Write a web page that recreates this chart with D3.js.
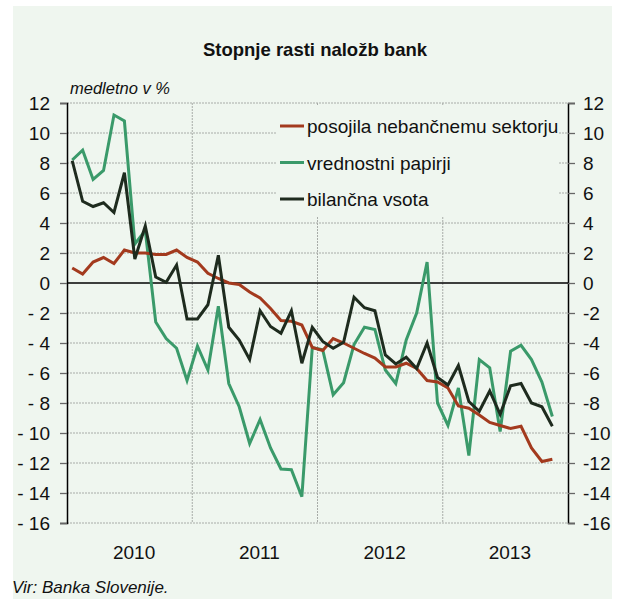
<!DOCTYPE html>
<html>
<head>
<meta charset="utf-8">
<script src="https://cdn.jsdelivr.net/npm/d3@7"></script>
<style>
  body { margin: 0; background: #fff; }
  svg text { font-family: "Liberation Sans Narrow", "Arial Narrow", "Liberation Sans", sans-serif; }
</style>
</head>
<body>
<svg id="chart" width="622" height="599"></svg>
<script>
// monthly data, Jan 2010 .. Nov 2013
const years = ["2010", "2011", "2012", "2013"];
const yTicks = [12, 10, 8, 6, 4, 2, 0, -2, -4, -6, -8, -10, -12, -14, -16];

const posojila = [1.0, 0.6, 1.4, 1.7, 1.3, 2.2, 2.0, 2.0, 1.9, 1.9, 2.2, 1.7,
  1.4, 0.65, 0.3, 0.0, -0.1, -0.6, -1.0, -1.7, -2.5, -2.55, -2.8, -4.3,
  -4.5, -3.7, -4.0, -4.35, -4.7, -5.0, -5.6, -5.6, -5.35, -5.7, -6.5, -6.6,
  -7.0, -8.2, -8.35, -8.8, -9.3, -9.5, -9.7, -9.55, -11.0, -11.9, -11.75];
const papirji = [8.2, 8.85, 6.9, 7.5, 11.2, 10.8, 2.6, 3.5, -2.6, -3.7, -4.35, -6.5,
  -4.2, -5.8, -1.55, -6.7, -8.25, -10.7, -9.1, -11.0, -12.4, -12.45, -14.25, -4.3,
  -4.45, -7.45, -6.65, -4.1, -2.95, -3.1, -5.8, -6.7, -3.8, -2.0, 1.4, -8.0,
  -9.5, -7.0, -11.5, -5.1, -5.65, -9.9, -4.55, -4.15, -5.1, -6.6, -8.9];
const vsota = [8.15, 5.45, 5.1, 5.35, 4.7, 7.35, 1.6, 3.8, 0.4, 0.05, 1.2, -2.4,
  -2.4, -1.45, 1.85, -2.95, -3.8, -5.1, -1.85, -2.9, -3.35, -1.85, -5.35, -2.95,
  -3.9, -4.35, -3.95, -0.95, -1.65, -1.85, -4.8, -5.4, -4.95, -5.7, -4.0, -6.3,
  -6.8, -5.5, -7.9, -8.55, -7.2, -8.75, -6.85, -6.7, -8.0, -8.25, -9.55];

const series = [
  {name: "posojila nebančnemu sektorju", values: posojila, color: "#a33a1e"},
  {name: "vrednostni papirji", values: papirji, color: "#3a9a6a"},
  {name: "bilančna vsota", values: vsota, color: "#1e2b1e"}
];
const drawOrder = [1, 0, 2];

const svg = d3.select("#chart");
const mLeft = 67, mRight = 568, mTop = 103, mBottom = 523;

svg.append("rect")
  .attr("x", 13).attr("y", 6).attr("width", 599).attr("height", 593)
  .attr("fill", "#eff6ef");

const x = d3.scaleLinear().domain([0, 48]).range([mLeft, mRight]);
const y = d3.scaleLinear().domain([-16, 12]).range([mBottom, mTop]);

// grid
svg.append("g")
  .selectAll("line")
  .data(yTicks.filter(d => d !== 0))
  .join("line")
    .attr("x1", mLeft).attr("x2", mRight)
    .attr("y1", d => y(d)).attr("y2", d => y(d))
    .attr("stroke", "#a8aca8").attr("stroke-width", 1)
    .attr("stroke-dasharray", "2,1");

svg.append("g")
  .selectAll("line")
  .data([12, 24, 36])
  .join("line")
    .attr("x1", d => x(d)).attr("x2", d => x(d))
    .attr("y1", mTop).attr("y2", mBottom)
    .attr("stroke", "#a8aca8").attr("stroke-width", 1)
    .attr("stroke-dasharray", "2,1");

// axes
const yl = svg.append("g").attr("transform", `translate(${mLeft},0)`)
  .call(d3.axisLeft(y).tickValues(yTicks).tickSize(7).tickPadding(10)
    .tickFormat(d => d < 0 ? "- " + Math.abs(d) : d));
const yr = svg.append("g").attr("transform", `translate(${mRight},0)`)
  .call(d3.axisRight(y).tickValues(yTicks).tickSize(7).tickPadding(8)
    .tickFormat(d => d < 0 ? "-" + Math.abs(d) : d));
[yl, yr].forEach(g => {
  g.select(".domain").attr("stroke", "#000").attr("stroke-width", 1.5);
  g.selectAll(".tick line").attr("stroke", "#666").attr("stroke-width", 1.3);
  g.selectAll(".tick text").attr("font-size", 19).attr("fill", "#111")
    .attr("font-family", "'Liberation Sans Narrow', 'Arial Narrow', sans-serif");
});

svg.append("line")
  .attr("x1", mLeft).attr("x2", mRight)
  .attr("y1", y(0)).attr("y2", y(0))
  .attr("stroke", "#000").attr("stroke-width", 1.5);

// year labels
svg.append("g")
  .selectAll("text")
  .data(years)
  .join("text")
    .attr("x", (d, i) => x(i * 12 + 6) + 4.5)
    .attr("y", 559)
    .attr("text-anchor", "middle")
    .attr("font-size", 19)
    .attr("fill", "#111")
    .text(d => d);

// lines
const line = d3.line()
  .x((d, i) => x(i + 0.5))
  .y(d => y(d));

svg.append("g")
  .selectAll("path")
  .data(drawOrder.map(i => series[i]))
  .join("path")
    .attr("d", d => line(d.values))
    .attr("fill", "none")
    .attr("stroke", d => d.color)
    .attr("stroke-width", 3)
    .attr("stroke-linejoin", "miter");

// legend
const lg = svg.append("g");
lg.append("rect")
  .attr("x", 276).attr("y", 106).attr("width", 283).attr("height", 110)
  .attr("fill", "#eff6ef");
const items = lg.selectAll("g")
  .data(series)
  .join("g")
    .attr("transform", (d, i) => `translate(280,${126 + i * 36.5})`);
items.append("line")
  .attr("x1", 0).attr("x2", 24)
  .attr("stroke", d => d.color).attr("stroke-width", 3);
items.append("text")
  .attr("x", 27).attr("y", 7)
  .attr("font-size", 19).attr("fill", "#111")
  .text(d => d.name);

// titles
svg.append("text")
  .attr("x", 315).attr("y", 56)
  .attr("text-anchor", "middle")
  .attr("font-size", 18.5).attr("font-weight", "bold")
  .attr("fill", "#111")
  .text("Stopnje rasti naložb bank");

svg.append("text")
  .attr("x", 70).attr("y", 94)
  .attr("font-size", 16.5).attr("font-style", "italic")
  .attr("fill", "#111")
  .text("medletno v %");

svg.append("text")
  .attr("x", 12).attr("y", 593)
  .attr("font-size", 17).attr("font-style", "italic")
  .attr("fill", "#111")
  .text("Vir: Banka Slovenije.");
</script>
</body>
</html>
